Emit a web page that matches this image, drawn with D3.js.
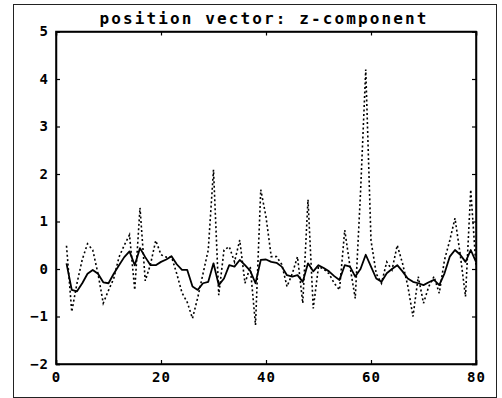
<!DOCTYPE html>
<html>
<head>
<meta charset="utf-8">
<script src="https://cdn.jsdelivr.net/npm/d3@7"></script>
<style>
  body { margin: 0; background: #fff; }
  svg text { font-family: 'DejaVu Sans Mono', monospace; font-weight: bold; fill: #000; }
</style>
</head>
<body>
<div id="chart"></div>
<script>
(function() {

  // sample index (time step)
  var steps = d3.range(2, 81);

  // raw z-component (dotted)
  var rawZ = [
    0.49, -0.9, -0.3, 0.2, 0.53, 0.4, -0.1, -0.72, -0.45, -0.2,
    0.25, 0.5, 0.72, -0.44, 1.29, -0.25, 0.1, 0.6, 0.3, 0.25,
    0.26, -0.1, -0.5, -0.7, -1.04, -0.6, -0.1, 0.4, 2.09, -0.55,
    0.4, 0.47, 0.15, 0.61, -0.3, 0.05, -1.18, 1.67, 1.1, 0.26,
    0.26, 0.1, -0.37, -0.1, 0.26, -0.72, 1.46, -0.83, 0.05, 0.0,
    -0.1, -0.3, -0.44, 0.82, 0.05, -0.62, 1.6, 4.2, 0.6, -0.1,
    -0.3, 0.15, -0.02, 0.5, 0.12, -0.35, -1.0, -0.16, -0.72, -0.37,
    -0.16, -0.51, 0.19, 0.6, 1.07, 0.3, -0.58, 1.67, 0.05
  ];

  // smoothed z-component (solid)
  var smoothZ = [
    0.12, -0.44, -0.47, -0.3, -0.1, -0.02, -0.1, -0.28, -0.3, -0.1,
    0.08, 0.25, 0.37, 0.08, 0.44, 0.25, 0.08, 0.08, 0.15, 0.2,
    0.27, 0.1, -0.02, -0.02, -0.37, -0.44, -0.3, -0.27, 0.12, -0.34,
    -0.2, 0.08, 0.05, 0.19, 0.08, -0.04, -0.3, 0.19, 0.2, 0.15,
    0.13, 0.05, -0.13, -0.16, -0.13, -0.27, 0.12, -0.05, 0.08, 0.02,
    -0.05, -0.15, -0.23, 0.08, 0.05, -0.16, 0.0, 0.3, 0.05, -0.2,
    -0.27, -0.09, 0.0, 0.08, -0.05, -0.2, -0.27, -0.3, -0.34, -0.28,
    -0.23, -0.34, -0.09, 0.26, 0.4, 0.3, 0.15, 0.4, 0.15
  ];

  var xTicks = [0, 20, 40, 60, 80],
      yTicks = [-2, -1, 0, 1, 2, 3, 4, 5];

  var title = 'position vector: z-component';

  var width = 502, height = 398,
      margin = {top: 31.5, right: 26, bottom: 34, left: 56};

  var x = d3.scaleLinear()
    .domain([0, 80])
    .range([margin.left, width - margin.right]);

  var y = d3.scaleLinear()
    .domain([-2, 5])
    .range([height - margin.bottom, margin.top]);

  var svg = d3.select('#chart')
    .append('svg')
    .attr('width', width)
    .attr('height', height);

  // outer frame
  svg.append('rect')
    .attr('x', 13.5)
    .attr('y', 4.5)
    .attr('width', 483)
    .attr('height', 393)
    .attr('fill', 'none')
    .attr('stroke', '#222')
    .attr('stroke-width', 1);

  svg.append('text')
    .attr('x', 263)
    .attr('y', 24)
    .attr('text-anchor', 'middle')
    .attr('textLength', 327)
    .attr('lengthAdjust', 'spacing')
    .style('font-size', '16px')
    .text(title);

  // axes, ticks pointing inward
  var left = svg.append('g')
    .attr('transform', 'translate(' + margin.left + ',0)')
    .call(d3.axisLeft(y).tickValues(yTicks).tickSize(-4).tickPadding(7).tickFormat(d3.format('d')));

  svg.append('g')
    .attr('transform', 'translate(' + (width - margin.right) + ',0)')
    .call(d3.axisRight(y).tickValues(yTicks).tickSize(-4).tickFormat(''));

  var bottom = svg.append('g')
    .attr('transform', 'translate(0,' + (height - margin.bottom) + ')')
    .call(d3.axisBottom(x).tickValues(xTicks).tickSize(-4).tickPadding(8).tickFormat(d3.format('d')));

  svg.append('g')
    .attr('transform', 'translate(0,' + margin.top + ')')
    .call(d3.axisTop(x).tickValues(xTicks).tickSize(-4).tickFormat(''));

  svg.selectAll('.domain')
    .attr('stroke', '#000')
    .attr('stroke-width', 1.5);
  svg.selectAll('.tick line')
    .attr('stroke', '#000')
    .attr('stroke-width', 1.2);
  svg.selectAll('.tick text')
    .style('font-size', '14px')
    .style('font-family', "'DejaVu Sans Mono', monospace")
    .style('font-weight', 'bold')
    .attr('letter-spacing', '1px');

  // plot box (right and top edges)
  svg.append('rect')
    .attr('x', x(0))
    .attr('y', y(5))
    .attr('width', x(80) - x(0))
    .attr('height', y(-2) - y(5))
    .attr('fill', 'none')
    .attr('stroke', '#000')
    .attr('stroke-width', 1.5);

  var line = function(vals) {
    return d3.line()
      .x(function(d, i) { return x(steps[i]); })
      .y(function(d) { return y(d); })(vals);
  };

  svg.append('path')
    .attr('d', line(rawZ))
    .attr('fill', 'none')
    .attr('stroke', '#000')
    .attr('stroke-width', 1.6)
    .attr('stroke-dasharray', '2,2.5');

  svg.append('path')
    .attr('d', line(smoothZ))
    .attr('fill', 'none')
    .attr('stroke', '#000')
    .attr('stroke-width', 1.8)
    .attr('stroke-linejoin', 'round');

})();
</script>
</body>
</html>
